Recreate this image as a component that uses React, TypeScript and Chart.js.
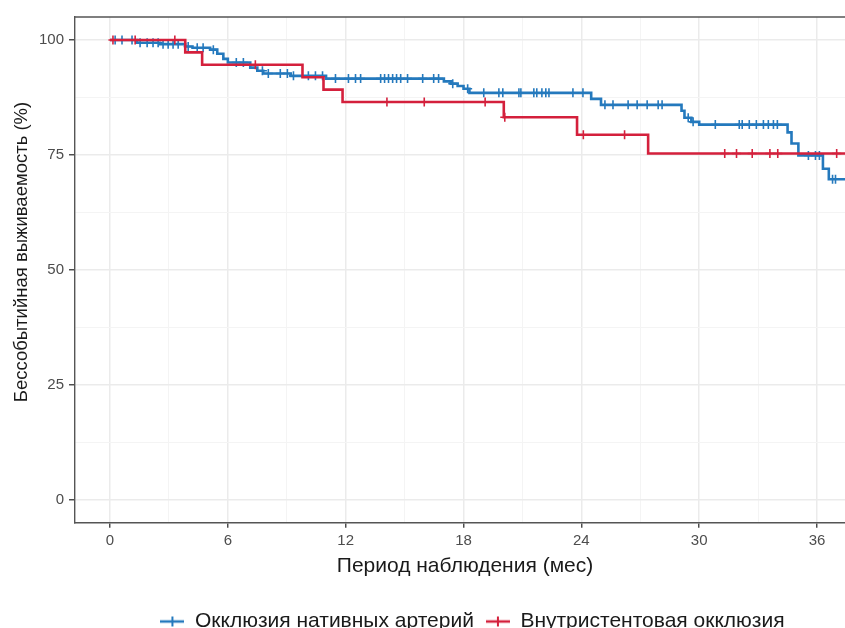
import React, { useEffect, useRef } from 'react';
import { Chart, registerables } from 'chart.js';

Chart.register(...registerables);

// ---- data -------------------------------------------------------------
const seriesNames = ['Окклюзия нативных артерий', 'Внутристентовая окклюзия'];
const seriesColors = ['#2479BD', '#D4203C'];
const xTitle = 'Период наблюдения (мес)';
const yTitle = 'Бессобытийная выживаемость (%)';
const xTickValues = [0, 6, 12, 18, 24, 30, 36];
const yTickValues = [0, 25, 50, 75, 100];

// Kaplan–Meier steps: time of event (months) and survival after it (%)
const nativeTimes = [0, 1.38, 2.55, 3.83, 4.2, 5.1, 5.46, 5.77, 6.0, 7.14, 7.5, 7.8, 9.2, 11.0, 17.0, 17.35, 17.7, 18.0, 18.3, 24.5, 25.0, 29.1, 29.25, 29.6, 30.0, 34.5, 34.7, 35.05, 36.3, 36.6];
const nativeSurv = [100, 99.4, 99.1, 98.6, 98.3, 97.9, 97.0, 95.9, 95.1, 94.0, 93.3, 92.7, 92.2, 91.6, 91.0, 90.5, 90.0, 89.4, 88.5, 87.2, 85.9, 84.6, 83.1, 82.2, 81.6, 79.9, 77.5, 74.9, 72.0, 69.7];
const nativeCensor = [0.26, 0.61, 1.12, 1.53, 1.89, 2.19, 2.45, 2.70, 2.96, 3.21, 3.47, 3.98, 4.44, 4.74, 5.26, 6.43, 6.79, 7.76, 8.06, 8.67, 9.03, 9.34, 10.10, 10.46, 10.82, 11.48, 12.14, 12.50, 12.76, 13.78, 13.98, 14.18, 14.39, 14.59, 14.80, 15.15, 15.92, 16.48, 16.73, 17.45, 18.21, 19.03, 19.80, 20.00, 20.82, 20.92, 21.58, 21.73, 21.99, 22.19, 22.35, 23.57, 24.08, 25.20, 25.61, 26.38, 26.84, 27.35, 27.91, 28.11, 29.44, 29.69, 30.82, 32.04, 32.19, 32.55, 32.91, 33.27, 33.52, 33.78, 33.98, 35.56, 35.92, 36.12, 36.79, 36.94];

const stentTimes = [0, 3.83, 4.69, 9.8, 10.87, 11.84, 20.05, 23.78, 27.4];
const stentSurv = [100, 97.3, 94.6, 91.9, 89.2, 86.5, 83.2, 79.4, 75.3];
const stentCensor = [0.15, 1.28, 3.3, 7.4, 14.1, 16.0, 19.1, 20.1, 24.1, 26.2, 31.3, 31.9, 32.7, 33.6, 34.0, 37.0];

const followEnd = 37.8;

// ---- helpers ------------------------------------------------------------
const X_MIN = -1.782;
const X_MAX = 37.933;
const Y_MIN = -5;
const Y_MAX = 105;
const FONT = "'Liberation Sans', Arial, Helvetica, sans-serif";

function survAt(times: number[], surv: number[], t: number) {
  let v = surv[0];
  for (let i = 0; i < times.length; i++) if (times[i] <= t) v = surv[i];
  return v;
}
function stepData(times: number[], surv: number[]) {
  const pts = times.map((t, i) => ({ x: t, y: surv[i] }));
  pts.push({ x: followEnd, y: surv[surv.length - 1] });
  return pts;
}
function censorData(times: number[], surv: number[], cens: number[]) {
  return cens.map((t) => ({ x: t, y: survAt(times, surv, t) }));
}
function withMinor(major: number[]) {
  const out: number[] = [];
  major.forEach((v, i) => {
    out.push(v);
    if (i < major.length - 1) out.push((v + major[i + 1]) / 2);
  });
  return out;
}
function legendGlyph(color: string) {
  const c = document.createElement('canvas');
  c.width = 24;
  c.height = 12;
  const g = c.getContext('2d')!;
  g.strokeStyle = color;
  g.lineWidth = 2.5;
  g.beginPath();
  g.moveTo(0, 6);
  g.lineTo(24, 6);
  g.stroke();
  g.lineWidth = 2;
  g.beginPath();
  g.moveTo(12, 1);
  g.lineTo(12, 11);
  g.stroke();
  return c;
}

const panelBorder = {
  id: 'panelBorder',
  beforeDatasetsDraw(chart: any) {
    const { ctx, chartArea } = chart;
    ctx.save();
    ctx.strokeStyle = '#555555';
    ctx.lineWidth = 1.4;
    ctx.beginPath();
    ctx.moveTo(chartArea.left, chartArea.top);
    ctx.lineTo(chartArea.right, chartArea.top);
    ctx.lineTo(chartArea.right, chartArea.bottom);
    ctx.stroke();
    ctx.restore();
  },
};

// y-axis title placed like the ggplot original (slightly above the panel centre)
const yAxisTitle = {
  id: 'yAxisTitle',
  afterDraw(chart: any) {
    const { ctx } = chart;
    ctx.save();
    ctx.translate(22, 252);
    ctx.rotate(-Math.PI / 2);
    ctx.fillStyle = '#1A1A1A';
    ctx.font = `18.5px ${FONT}`;
    ctx.textAlign = 'center';
    ctx.textBaseline = 'middle';
    ctx.fillText(yTitle, 0, 0);
    ctx.restore();
  },
};

// centre the legend on the whole (uncropped) figure, as in the original
const legendCentre = {
  id: 'legendCentre',
  afterLayout(chart: any) {
    const lg = chart.legend;
    if (!lg) return;
    const d = 472.5 - (lg.left + lg.right) / 2;
    lg.left += d;
    lg.right += d;
  },
};

export default function App() {
  const ref = useRef<HTMLCanvasElement>(null);

  useEffect(() => {
    const canvas = ref.current!;
    const xGrid = withMinor(xTickValues);
    const yGrid = withMinor(yTickValues);
    const isMajorX = (v: number) => xTickValues.includes(v);
    const isMajorY = (v: number) => yTickValues.includes(v);

    const chart = new Chart(canvas, {
      type: 'line',
      data: {
        datasets: [
          {
            label: seriesNames[0],
            data: stepData(nativeTimes, nativeSurv),
            borderColor: seriesColors[0],
            backgroundColor: seriesColors[0],
            borderWidth: 2.6,
            stepped: true,
            pointRadius: 0,
            pointStyle: legendGlyph(seriesColors[0]) as any,
            fill: false,
            order: 4,
          },
          {
            label: seriesNames[1],
            data: stepData(stentTimes, stentSurv),
            borderColor: seriesColors[1],
            backgroundColor: seriesColors[1],
            borderWidth: 2.6,
            stepped: true,
            pointRadius: 0,
            pointStyle: legendGlyph(seriesColors[1]) as any,
            fill: false,
            order: 2,
          },
          {
            label: seriesNames[0] + ' (цензур.)',
            data: censorData(nativeTimes, nativeSurv, nativeCensor),
            showLine: false,
            pointStyle: 'cross',
            pointRadius: 4.5,
            borderColor: seriesColors[0],
            backgroundColor: seriesColors[0],
            pointBorderWidth: 1.6,
            order: 3,
          },
          {
            label: seriesNames[1] + ' (цензур.)',
            data: censorData(stentTimes, stentSurv, stentCensor),
            showLine: false,
            pointStyle: 'cross',
            pointRadius: 4.5,
            borderColor: seriesColors[1],
            backgroundColor: seriesColors[1],
            pointBorderWidth: 1.6,
            order: 1,
          },
        ],
      },
      options: {
        animation: false,
        responsive: false,
        devicePixelRatio: 1,
        events: [],
        layout: { padding: { top: 17, left: 34, right: 90, bottom: 0 } },
        scales: {
          x: {
            type: 'linear',
            min: X_MIN,
            max: X_MAX,
            afterBuildTicks: (scale: any) => {
              scale.ticks = xGrid.map((v) => ({ value: v }));
            },
            ticks: {
              autoSkip: false,
              maxRotation: 0,
              padding: 4,
              color: '#4D4D4D',
              font: { family: FONT, size: 15 },
              callback: (v: any) => (isMajorX(Number(v)) ? String(v) : ''),
            },
            grid: {
              drawTicks: true,
              tickLength: 5,
              color: (c: any) => (isMajorX(c.tick?.value) ? '#EBEBEB' : '#F4F4F4'),
              lineWidth: (c: any) => (isMajorX(c.tick?.value) ? 1.5 : 1),
              tickColor: (c: any) => (isMajorX(c.tick?.value) ? '#444444' : 'rgba(0,0,0,0)'),
              tickWidth: 1.4,
            },
            border: { display: true, color: '#555555', width: 1.4 },
            title: {
              display: true,
              text: xTitle,
              color: '#1A1A1A',
              font: { family: FONT, size: 21 },
              padding: { top: 0, bottom: 20 },
            },
          },
          y: {
            type: 'linear',
            min: Y_MIN,
            max: Y_MAX,
            afterBuildTicks: (scale: any) => {
              scale.ticks = yGrid.map((v) => ({ value: v }));
            },
            ticks: {
              autoSkip: false,
              padding: 5,
              color: '#4D4D4D',
              font: { family: FONT, size: 15 },
              callback: (v: any) => (isMajorY(Number(v)) ? String(v) : ''),
            },
            grid: {
              drawTicks: true,
              tickLength: 6,
              color: (c: any) => (isMajorY(c.tick?.value) ? '#EBEBEB' : '#F4F4F4'),
              lineWidth: (c: any) => (isMajorY(c.tick?.value) ? 1.5 : 1),
              tickColor: (c: any) => (isMajorY(c.tick?.value) ? '#444444' : 'rgba(0,0,0,0)'),
              tickWidth: 1.4,
            },
            border: { display: true, color: '#555555', width: 1.4 },
            title: { display: false },
          },
        },
        plugins: {
          tooltip: { enabled: false },
          legend: {
            display: true,
            position: 'bottom',
            labels: {
              usePointStyle: true,
              pointStyleWidth: 24,
              padding: 12,
              color: '#1A1A1A',
              font: { family: FONT, size: 21 },
              filter: (item: any) => item.datasetIndex < 2,
              sort: (a: any, b: any) => a.datasetIndex - b.datasetIndex,
            },
          },
        },
      },
      plugins: [panelBorder, yAxisTitle, legendCentre],
    } as any);

    return () => chart.destroy();
  }, []);

  return (
    <div
      style={{
        position: 'absolute',
        left: 0,
        top: 0,
        width: 845,
        height: 628,
        overflow: 'hidden',
        background: '#ffffff',
      }}
    >
      <canvas ref={ref} width={945} height={642} style={{ display: 'block', width: 945, height: 642 }} />
    </div>
  );
}
